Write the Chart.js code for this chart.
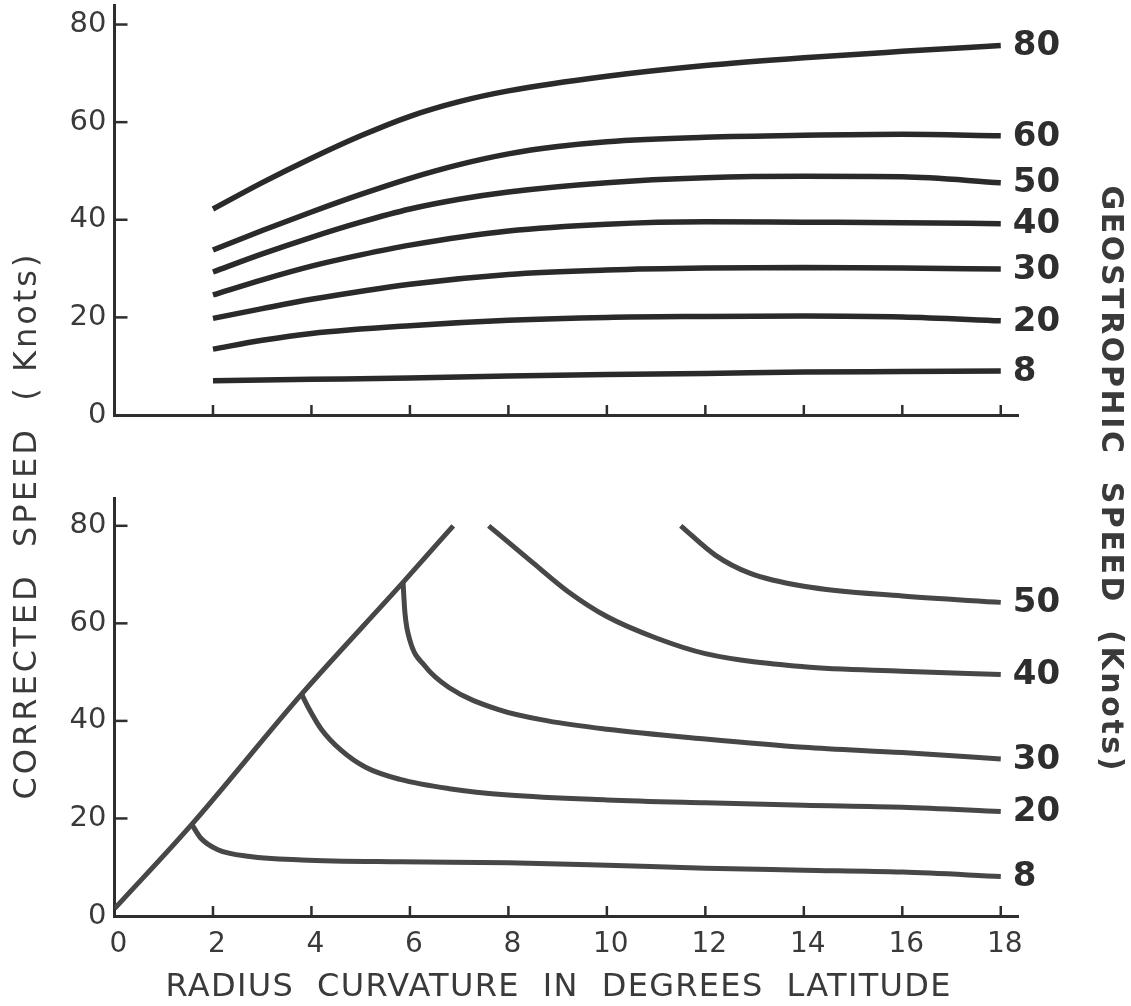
<!DOCTYPE html>
<html>
<head>
<meta charset="utf-8">
<script src="https://cdn.jsdelivr.net/npm/chart.js@4.4.1/dist/chart.umd.min.js"></script>
<style>
  html, body { margin: 0; background: #fff; }
  #wrap { position: relative; width: 1131px; height: 1006px; }
  #wrap canvas { position: absolute; left: 0; top: 0; }
</style>
</head>
<body>
<div id="wrap">
  <canvas id="upper" width="1131" height="1006"></canvas>
  <canvas id="lower" width="1131" height="1006"></canvas>
</div>
<script>
// axis ticks
const radiusTicks = [0, 2, 4, 6, 8, 10, 12, 14, 16, 18];
const speedTicks = [0, 20, 40, 60, 80];

// upper panel: corrected speed vs radius, one curve per geostrophic speed
const upperLabels = ['80', '60', '50', '40', '30', '20', '8'];
const upper80 = [[2, 42.2], [3, 47.6], [4, 52.6], [5, 57.2], [6, 61.2], [7, 64.2], [8, 66.4], [10, 69.4], [12, 71.6], [14, 73.2], [16, 74.5], [18, 75.7]];
const upper60 = [[2, 33.8], [3, 37.8], [4, 41.6], [5, 45.2], [6, 48.5], [7, 51.3], [8, 53.5], [9, 55], [10, 56], [12, 56.9], [14, 57.3], [16, 57.5], [18, 57.2]];
const upper50 = [[2, 29.3], [3, 33], [4, 36.4], [5, 39.5], [6, 42.2], [7, 44.2], [8, 45.7], [10, 47.6], [12, 48.6], [14, 48.9], [16, 48.8], [18, 47.6]];
const upper40 = [[2, 24.6], [3, 27.7], [4, 30.5], [5, 32.8], [6, 34.8], [8, 37.7], [10, 39.1], [12, 39.6], [14, 39.5], [16, 39.4], [18, 39.2]];
const upper30 = [[2, 19.8], [3, 21.8], [4, 23.7], [6, 26.8], [8, 28.8], [10, 29.7], [12, 30.1], [14, 30.2], [16, 30.1], [18, 29.9]];
const upper20 = [[2, 13.5], [3, 15.3], [4, 16.7], [6, 18.3], [8, 19.4], [10, 20], [12, 20.2], [14, 20.3], [16, 20.1], [18, 19.3]];
const upper8 = [[2, 7.0], [4, 7.3], [6, 7.6], [8, 8.0], [10, 8.3], [12, 8.5], [14, 8.8], [16, 8.9], [18, 9.0]];

// lower panel: limiting line and the branches leaving it
const lowerLabels = ['', '8', '20', '30', '40', '50'];
const lowerLimit = [[0, 1.5], [1.57, 18.8], [3.8, 45.5], [5.86, 68.4], [6.88, 80]];
const lower8 = [[1.57, 18.8], [1.75, 16], [2.1, 13.6], [2.75, 12.2], [3.8, 11.5], [5.8, 11.1], [8, 10.9], [10, 10.4], [12, 9.8], [14, 9.4], [16, 9.0], [18, 8.1]];
const lower20 = [[3.8, 45.5], [3.95, 42.5], [4.2, 38.3], [4.6, 34], [5.1, 30.5], [5.8, 28], [6.8, 26.1], [8, 24.8], [10, 23.8], [12, 23.2], [14, 22.7], [16, 22.3], [18, 21.4]];
const lower30 = [[5.86, 68.4], [5.9, 62], [6.0, 56.5], [6.3, 51.3], [6.8, 46.8], [7.8, 42.3], [8.8, 40], [10, 38.3], [12, 36.3], [14, 34.6], [16, 33.5], [18, 32.2]];
const lower40 = [[7.6, 80], [8.5, 72.4], [9.2, 66.6], [10, 61.4], [11, 57], [12, 53.8], [14, 51.1], [16, 50.2], [18, 49.5]];
const lower50 = [[11.5, 80], [12.2, 74], [12.9, 70.3], [14, 67.6], [16, 65.6], [18, 64.3]];

const ink = '#2e2e2e';
const textInk = '#3a3a3a';
const FONT = '"DejaVu Sans", sans-serif';

function toPoints(pairs) {
  return pairs.map(([x, y]) => ({ x, y }));
}

function makeDataset(label, pairs, color, width) {
  return {
    label,
    data: toPoints(pairs),
    borderColor: color,
    borderWidth: width,
    borderCapStyle: 'butt',
    borderJoinStyle: 'round',
    pointRadius: 0,
    cubicInterpolationMode: 'monotone',
    fill: false
  };
}

// short tick marks pointing into the plot
const innerTicks = {
  id: 'innerTicks',
  afterDraw(chart) {
    const { ctx, chartArea, scales } = chart;
    ctx.save();
    ctx.strokeStyle = ink;
    ctx.lineWidth = 2.5;
    speedTicks.filter(v => v > 0).forEach(v => {
      const py = scales.y.getPixelForValue(v);
      ctx.beginPath();
      ctx.moveTo(chartArea.left, py);
      ctx.lineTo(chartArea.left + 13, py);
      ctx.stroke();
    });
    radiusTicks.filter(v => v > 0).forEach(v => {
      const px = scales.x.getPixelForValue(v);
      ctx.beginPath();
      ctx.moveTo(px, chartArea.bottom);
      ctx.lineTo(px, chartArea.bottom - 10);
      ctx.stroke();
    });
    ctx.restore();
  }
};

// speed value written at the right end of each curve
const curveLabels = {
  id: 'curveLabels',
  afterDatasetsDraw(chart) {
    const { ctx } = chart;
    ctx.save();
    ctx.font = 'bold 34px ' + FONT;
    ctx.fillStyle = ink;
    ctx.textAlign = 'left';
    ctx.textBaseline = 'middle';
    chart.data.datasets.forEach((ds, i) => {
      if (!ds.label) return;
      const pts = chart.getDatasetMeta(i).data;
      const last = pts[pts.length - 1];
      ctx.fillText(ds.label, last.x + 12, last.y + 1);
    });
    ctx.restore();
  }
};

function fitText(ctx, text, width, x, y, angle) {
  ctx.save();
  ctx.translate(x, y);
  ctx.rotate(angle);
  ctx.letterSpacing = '0px';
  const w = ctx.measureText(text).width;
  const gap = (width - w) / (text.length - 1);
  ctx.letterSpacing = gap.toFixed(2) + 'px';
  ctx.textAlign = 'center';
  ctx.textBaseline = 'middle';
  ctx.fillText(text, gap / 2, 0);
  ctx.restore();
}

// axis titles shared by both panels
const titles = {
  id: 'titles',
  afterDraw(chart) {
    const { ctx } = chart;
    ctx.save();
    ctx.fillStyle = textInk;
    ctx.font = '32px ' + FONT;
    fitText(ctx, 'CORRECTED  SPEED  ( Knots)', 545, 28, 527, -Math.PI / 2);
    fitText(ctx, 'RADIUS  CURVATURE  IN  DEGREES  LATITUDE', 785, 558, 988, 0);
    ctx.font = 'bold 30px ' + FONT;
    fitText(ctx, 'GEOSTROPHIC  SPEED  (Knots)', 585, 1110, 478, Math.PI / 2);
    ctx.restore();
  }
};

function panelOptions(opts) {
  return {
    responsive: false,
    animation: false,
    events: [],
    layout: { padding: { left: 0, right: 113, top: opts.top, bottom: 0 } },
    plugins: { legend: { display: false }, tooltip: { enabled: false } },
    scales: {
      x: {
        type: 'linear',
        min: 0,
        max: 18.35,
        afterBuildTicks: s => { s.ticks = radiusTicks.map(v => ({ value: v })); },
        afterFit: s => { s.height = 1006 - opts.zero; },
        grid: { display: false, drawTicks: false },
        border: { display: true, color: ink, width: 3 },
        ticks: {
          display: opts.xLabels,
          color: textInk,
          font: { family: FONT, size: 28 },
          padding: 12,
          labelOffset: 4,
          maxRotation: 0
        }
      },
      y: {
        type: 'linear',
        min: 0,
        max: opts.ymax,
        afterBuildTicks: s => { s.ticks = speedTicks.map(v => ({ value: v })); },
        afterFit: s => {
          // fixed gutter; tick labels may overhang the plot edges
          s.width = 114.5;
          s.paddingTop = 0;
          s.paddingBottom = 0;
        },
        grid: { display: false, drawTicks: false },
        border: { display: true, color: ink, width: 3 },
        ticks: {
          color: textInk,
          font: { family: FONT, size: 29 },
          padding: 8
        }
      }
    }
  };
}

const upperSeries = [upper80, upper60, upper50, upper40, upper30, upper20, upper8];
new Chart(document.getElementById('upper'), {
  type: 'line',
  data: {
    datasets: upperSeries.map((s, i) => makeDataset(upperLabels[i], s, '#2a2a2a', 5.5))
  },
  options: panelOptions({ top: 5, zero: 415, ymax: 84, xLabels: false }),
  plugins: [innerTicks, curveLabels]
});

const lowerSeries = [lowerLimit, lower8, lower20, lower30, lower40, lower50];
new Chart(document.getElementById('lower'), {
  type: 'line',
  data: {
    datasets: lowerSeries.map((s, i) => makeDataset(lowerLabels[i], s, '#474747', 5))
  },
  options: panelOptions({ top: 498, zero: 916, ymax: 85.7, xLabels: true }),
  plugins: [innerTicks, curveLabels, titles]
});
</script>
</body>
</html>
